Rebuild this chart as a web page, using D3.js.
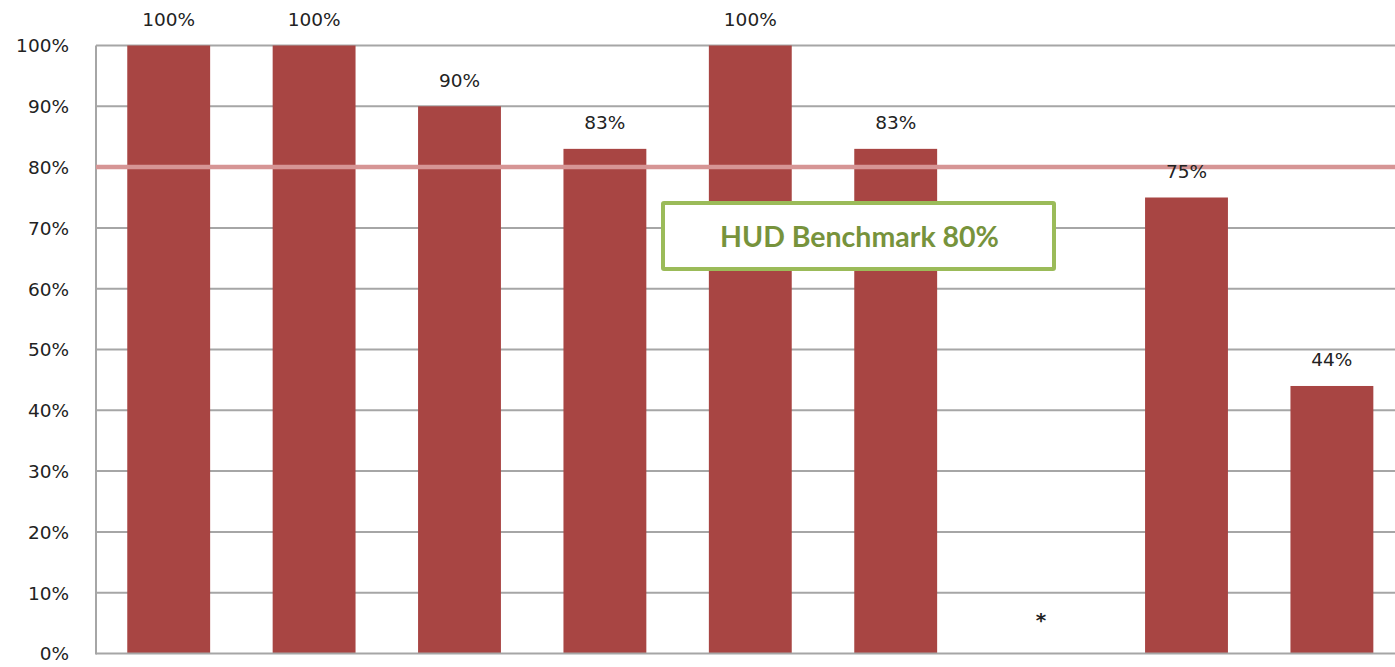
<!DOCTYPE html>
<html>
<head>
<meta charset="utf-8">
<script src="https://cdn.jsdelivr.net/npm/d3@7"></script>
<style>
  html, body { margin: 0; padding: 0; background: #ffffff; overflow: hidden; }
  svg { display: block; }
</style>
</head>
<body>
<svg id="chart" width="1395" height="667"></svg>
<script>
// ---- data ----
const categories = ["Project 1", "Project 2", "Project 3", "Project 4", "Project 5", "Project 6", "Project 7", "Project 8", "Project 9"];
const values = [1.00, 1.00, 0.90, 0.83, 1.00, 0.83, null, 0.75, 0.44];
const missingMarker = "*";
const yTicks = [0, 0.1, 0.2, 0.3, 0.4, 0.5, 0.6, 0.7, 0.8, 0.9, 1.0];
const benchmarkValue = 0.80;
const benchmarkLabel = "HUD Benchmark 80%";

// ---- layout ----
const W = 1395, H = 667;
const pLeft = 96, pRight = 1404.6, pTop = 45.5, pBottom = 653.5;
const svg = d3.select("#chart");
const font = "'DejaVu Sans', Verdana, sans-serif";

const x = d3.scaleBand().domain(categories).range([pLeft, pRight]).paddingInner(0.43).paddingOuter(0.215);
const y = d3.scaleLinear().domain([0, 1]).range([pBottom, pTop]);

// gridlines
svg.append("g").selectAll("line").data(yTicks.filter(d => d > 0)).join("line")
  .attr("x1", pLeft).attr("x2", W)
  .attr("y1", d => y(d)).attr("y2", d => y(d))
  .attr("stroke", "#a6a6a6").attr("stroke-width", 2);

// axis
const yAxis = d3.axisLeft(y).tickValues(yTicks).tickFormat(d3.format(".0%")).tickSize(0).tickPadding(27);
const ag = svg.append("g").attr("transform", `translate(${pLeft},0)`).call(yAxis);
ag.select(".domain").remove();
ag.selectAll("text").attr("font-family", font).attr("font-size", 18.5).attr("fill", "#222").attr("dy", "0.35em");

// bars
svg.append("g").selectAll("rect").data(categories.map((c, i) => ({c, v: values[i]})).filter(d => d.v !== null)).join("rect")
  .attr("x", d => x(d.c)).attr("width", x.bandwidth())
  .attr("y", d => y(d.v)).attr("height", d => y(0) - y(d.v))
  .attr("fill", "#a84543");

// axis lines
svg.append("line").attr("x1", pLeft).attr("x2", pLeft).attr("y1", pTop).attr("y2", pBottom + 1)
  .attr("stroke", "#a6a6a6").attr("stroke-width", 2);
svg.append("line").attr("x1", pLeft).attr("x2", W).attr("y1", pBottom).attr("y2", pBottom)
  .attr("stroke", "#a6a6a6").attr("stroke-width", 2);

// benchmark line
svg.append("line").attr("x1", pLeft).attr("x2", W).attr("y1", y(benchmarkValue)).attr("y2", y(benchmarkValue))
  .attr("stroke", "#d69595").attr("stroke-width", 4.5);

// value labels
svg.append("g").selectAll("text").data(categories.map((c, i) => ({c, v: values[i]}))).join("text")
  .attr("x", d => x(d.c) + x.bandwidth() / 2)
  .attr("y", d => d.v === null ? y(0.055) : y(d.v) - 26)
  .attr("dy", "0.35em")
  .attr("text-anchor", "middle")
  .attr("font-family", font).attr("font-size", d => d.v === null ? 20 : 18.5)
  .attr("font-weight", d => d.v === null ? "bold" : "normal").attr("fill", "#222")
  .text(d => d.v === null ? missingMarker : d3.format(".0%")(d.v));

// benchmark annotation box
const bx = 663, by = 203, bw = 391, bh = 66;
svg.append("rect").attr("x", bx).attr("y", by).attr("width", bw).attr("height", bh)
  .attr("fill", "#fff").attr("stroke", "#9bbb59").attr("stroke-width", 4).attr("rx", 1);
svg.append("text").attr("x", bx + bw / 2 + 1).attr("y", by + bh / 2 + 1).attr("dy", "0.35em")
  .attr("text-anchor", "middle").attr("font-family", "Lato, 'Open Sans', sans-serif").attr("font-weight", "bold")
  .attr("font-size", 28.5).attr("fill", "#77933c").text(benchmarkLabel);
</script>
</body>
</html>
